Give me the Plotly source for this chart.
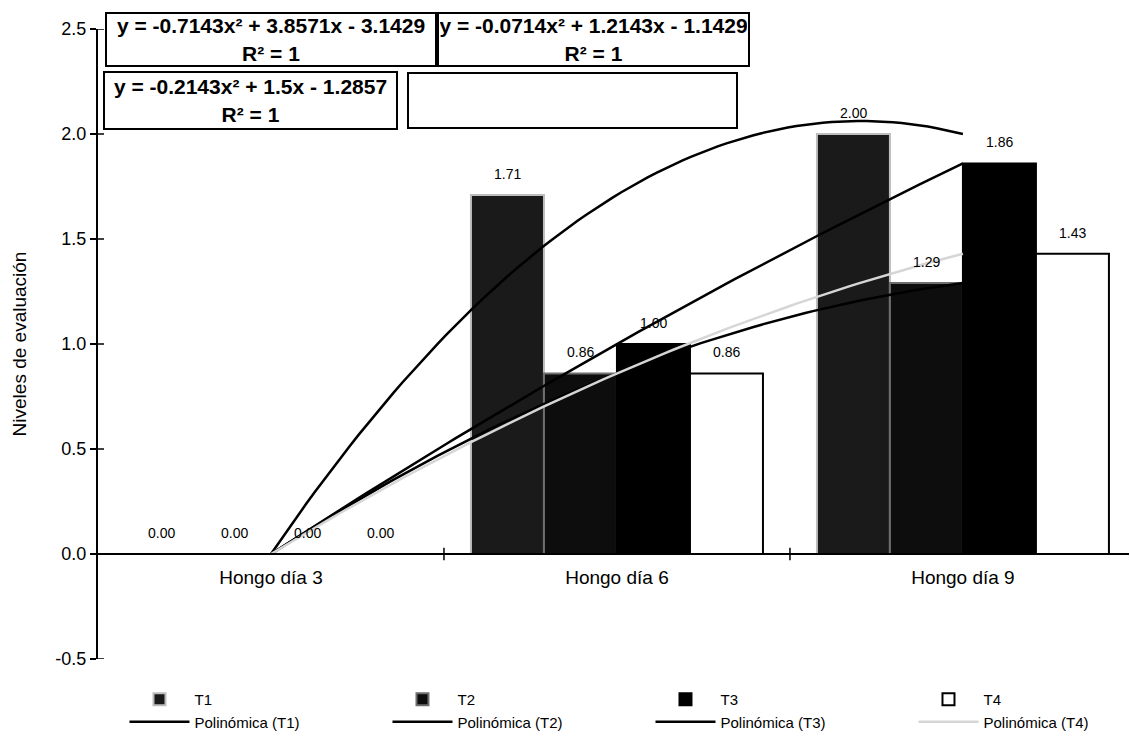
import numpy as np
import plotly.graph_objects as go

categories = ["Hongo día 3", "Hongo día 6", "Hongo día 9"]
series_names = ["T1", "T2", "T3", "T4"]
t1 = [0.00, 1.71, 2.00]
t2 = [0.00, 0.86, 1.29]
t3 = [0.00, 1.00, 1.86]
t4 = [0.00, 0.86, 1.43]
series_values = [t1, t2, t3, t4]
y_ticks = [-0.5, 0.0, 0.5, 1.0, 1.5, 2.0, 2.5]
equations = [
    "y = -0.7143x² + 3.8571x - 3.1429<br>R² = 1",
    "y = -0.0714x² + 1.2143x - 1.1429<br>R² = 1",
    "y = -0.2143x² + 1.5x - 1.2857<br>R² = 1",
    "",
]

FONT = "Liberation Sans, Arial, sans-serif"
W, H = 1130, 751
L, R, T, B = 98, 1, 29, 92
PW, PH = W - L - R, H - T - B
BARGAP = 0.156

bar_fill = ["#1a1a1a", "#0d0d0d", "#000000", "#ffffff"]
bar_line = ["#bdbdbd", "#6e6e6e", "#000000", "#000000"]
trend_col = ["#000000", "#000000", "#000000", "#d6d6d6"]

xi = list(range(len(categories)))
fig = go.Figure()
for name, vals, fc, lc in zip(series_names, series_values, bar_fill, bar_line):
    fig.add_trace(go.Bar(
        x=xi, y=vals, name=name,
        marker=dict(color=fc, line=dict(color=lc, width=2)),
    ))

# data labels above bars
bw = (1 - BARGAP) / len(series_names)
for j, vals in enumerate(series_values):
    off = (j - (len(series_names) - 1) / 2) * bw
    for i, v in enumerate(vals):
        fig.add_annotation(x=i + off, y=v, xref="x", yref="y", text=f"{v:.2f}",
                           showarrow=False, yshift=21,
                           font=dict(family=FONT, size=14, color="black"))

# polynomial trendlines (order 2) through category centres, like the spreadsheet
xc = np.array([1, 2, 3], dtype=float)
xs = np.linspace(1, 3, 80)
for name, vals, col in zip(series_names, series_values, trend_col):
    coef = np.polyfit(xc, np.array(vals), 2)
    fig.add_trace(go.Scatter(
        x=xs - 1, y=np.polyval(coef, xs), mode="lines",
        name=f"Polinómica ({name})",
        line=dict(color=col, width=2.5),
    ))

def px2x(px):
    return (px - L) / PW

def py2y(py):
    return (H - B - py) / PH

# equation boxes: (left px, top px, width px, height px)
boxes = [(105, 12, 332, 55), (437, 12, 313, 55), (103, 71, 295, 59), (407, 72, 331, 57)]
for txt, (bx, by, bwid, bh) in zip(equations, boxes):
    fig.add_annotation(
        xref="paper", yref="paper", x=px2x(bx), y=py2y(by),
        xanchor="left", yanchor="top", showarrow=False,
        text=f"<b>{txt}</b>" if txt else " ",
        width=bwid - 6, height=bh - 6, borderpad=1, borderwidth=2,
        bordercolor="black", bgcolor="white", align="center", valign="middle",
        font=dict(family=FONT, size=21, color="black"),
    )

shapes = []
# inner halves of crossing y ticks
for v in y_ticks:
    shapes.append(dict(type="line", xref="paper", yref="y", x0=0, x1=6 / PW, y0=v, y1=v,
                       line=dict(color="black", width=1.5)))
# crossing category divider ticks on the zero line
for d in [0.5, 1.5]:
    shapes.append(dict(type="line", xref="x", yref="y", x0=d, x1=d, y0=-0.03, y1=0.03,
                       line=dict(color="black", width=1.5)))
fig.update_layout(shapes=shapes)

fig.update_layout(
    width=W, height=H,
    margin=dict(l=L, r=R, t=T, b=B, pad=0, autoexpand=False),
    paper_bgcolor="white", plot_bgcolor="white",
    barmode="group", bargap=BARGAP, bargroupgap=0,
    font=dict(family=FONT, color="black"),
    showlegend=True,
    legend=dict(orientation="h", x=-0.0005, y=py2y(683), xanchor="left", yanchor="top",
                entrywidth=161, entrywidthmode="pixels", traceorder="normal",
                indentation=27,
                font=dict(family=FONT, size=15, color="black"), itemwidth=60,
                bgcolor="rgba(0,0,0,0)", tracegroupgap=0),
    xaxis=dict(range=[-0.5, 2.48], tickmode="array", tickvals=xi, ticktext=categories,
               anchor="free", position=0.5 / 3, showline=True, linecolor="black", linewidth=1.5,
               ticks="", showgrid=False, zeroline=False, ticklabelstandoff=6,
               tickfont=dict(family=FONT, size=19, color="black")),
    yaxis=dict(range=[-0.5, 2.5], tickmode="array", tickvals=y_ticks,
               ticktext=[f"{v:.1f}" for v in y_ticks],
               showline=True, linecolor="black", linewidth=2, ticks="outside",
               ticklen=6, tickwidth=1.5, tickcolor="black", showgrid=False, zeroline=False,
               tickfont=dict(family=FONT, size=18, color="black"),
               title=dict(text="Niveles de evaluación", standoff=24,
                          font=dict(family=FONT, size=19, color="black"))),
)

fig.write_html("out.html")
